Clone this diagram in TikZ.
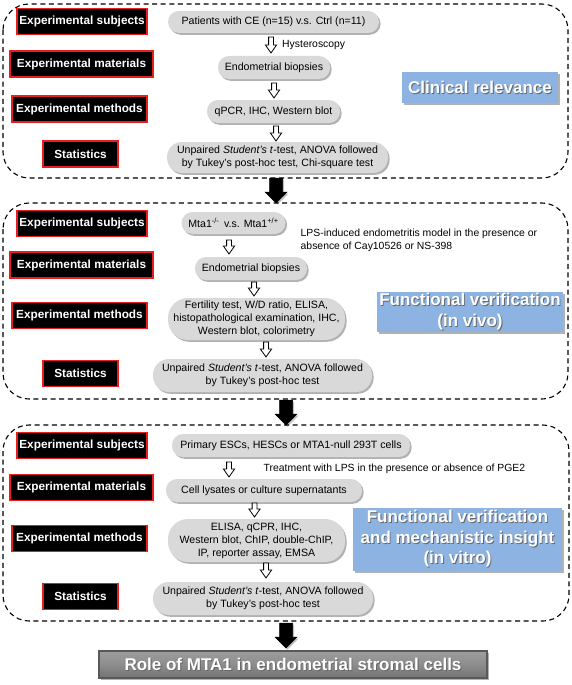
\documentclass[tikz,border=0pt]{standalone}
\usepackage{fontspec}
\setmainfont{Liberation Sans}
\usetikzlibrary{shadows}
\definecolor{lred}{RGB}{232,30,30}
\definecolor{pillgray}{RGB}{217,217,217}
\definecolor{lblue}{RGB}{141,179,226}
\newcommand\shd[1]{\makebox[0pt][l]{\hspace{0.9pt}\raisebox{-0.9pt}{\color{black!60}#1}}#1}
\newcommand\downarr[7]{%
  \draw[#1] (#2-#5,#3) -- (#2+#5,#3) -- (#2+#5,#4-#7) -- (#2+#6,#4-#7) -- (#2,#4)
    -- (#2-#6,#4-#7) -- (#2-#5,#4-#7) -- cycle;}
\tikzset{
  lbl/.style={fill=black, draw=lred, line width=1.6pt, text=white, inner sep=0pt,
    font=\bfseries\fontsize{11.8}{14}\selectfont},
  pill/.style={fill=pillgray, draw=none, rounded corners=#1, align=center, inner sep=0pt,
    font=\fontsize{10.6}{12.9}\selectfont,
    drop shadow={shadow xshift=1.6pt, shadow yshift=-1.8pt, fill=black, opacity=0.3}},
  pill/.default=11pt,
  bluebox/.style={fill=lblue, draw=none, text=white, align=center, inner sep=0pt,
    font=\bfseries\fontsize{17}{20.5}\selectfont,
    drop shadow={shadow xshift=2pt, shadow yshift=-2pt, fill=black, opacity=0.3}},
  panel/.style={draw=black, line width=1.1pt, dash pattern=on 5pt off 3.6pt, rounded corners=26pt},
  note/.style={anchor=west, align=left, inner sep=0pt, font=\fontsize{10.4}{12.9}\selectfont},
  hollow/.style={fill=white, draw=black, line width=0.8pt},
  bigarr/.style={fill=black, draw=black, line width=0.5pt,
    drop shadow={shadow xshift=1.5pt, shadow yshift=-1.5pt, fill=black, opacity=0.25}},
  final/.style={top color=black!38, bottom color=black!55, middle color=black!45,
    draw=black!65, line width=1.3pt, text=white, inner sep=0pt,
    font=\bfseries\fontsize{17}{20}\selectfont,
    drop shadow={shadow xshift=2pt, shadow yshift=-2pt, fill=black, opacity=0.3}}
}
\begin{document}
\begin{tikzpicture}[x=1pt, y=-1pt]
\useasboundingbox[fill=white] (0,0) rectangle (572,685);

% ---------- panels ----------
\draw[panel] (3,4) rectangle (568,178);
\draw[panel] (3,203) rectangle (568,399);
\draw[panel] (3,425) rectangle (569,621);

% ---------- panel 1 ----------
\node[lbl, minimum width=130pt, minimum height=26pt] (s1) at (82,21.5) {Experimental subjects};
\node[lbl, minimum width=143pt, minimum height=26pt] (m1) at (81.5,64) {Experimental materials};
\node[lbl, minimum width=135pt, minimum height=26pt] (e1) at (79.5,109) {Experimental methods};
\node[lbl, minimum width=75pt, minimum height=26pt] (t1) at (80.5,154) {Statistics};

\node[pill, minimum width=211pt, minimum height=22pt] (p1a) at (273.5,22) {Patients with CE (n=15) v.s. Ctrl (n=11)};
\node[pill, minimum width=112pt, minimum height=23pt] (p1b) at (274,67.5) {Endometrial biopsies};
\node[pill, minimum width=133pt, minimum height=23pt] (p1c) at (273.5,111.5) {qPCR, IHC, Western blot};
\node[pill=15pt, minimum width=221pt, minimum height=31pt] (p1d) at (277.5,157.5)
  {Unpaired \textit{Student's t}-test, ANOVA followed\\by Tukey's post-hoc test, Chi-square test};
\node[note] (h1) at (282,45) {Hysteroscopy};

\node[bluebox, minimum width=156pt, minimum height=31pt] (b1) at (480,87.5) {\shd{Clinical relevance}};

\downarr{hollow}{271}{37}{53}{2.4}{5.6}{8}
\downarr{hollow}{274}{83}{98}{2.4}{5.6}{8}
\downarr{hollow}{276}{126}{141}{2.4}{5.6}{8}

% ---------- panel 2 ----------
\node[lbl, minimum width=130pt, minimum height=26pt] (s2) at (82,223.5) {Experimental subjects};
\node[lbl, minimum width=143pt, minimum height=26pt] (m2) at (81.5,265) {Experimental materials};
\node[lbl, minimum width=135pt, minimum height=26pt] (e2) at (79.5,315.5) {Experimental methods};
\node[lbl, minimum width=75pt, minimum height=26pt] (t2) at (80.5,373.5) {Statistics};

\node[pill, minimum width=104pt, minimum height=22pt] (p2a) at (233.5,223)
  {Mta1\textsuperscript{-/-}\, v.s. Mta1\textsuperscript{+/+}};
\node[pill, minimum width=112pt, minimum height=23pt] (p2b) at (251,268.5) {Endometrial biopsies};
\node[pill=20pt, minimum width=177pt, minimum height=42pt] (p2c) at (256.5,319)
  {Fertility test, W/D ratio, ELISA,\\histopathological examination, IHC,\\Western blot, colorimetry};
\node[pill=16pt, minimum width=219pt, minimum height=33pt] (p2d) at (262.5,375.5)
  {Unpaired \textit{Student's t}-test, ANOVA followed\\by Tukey's post-hoc test};
\node[note] (n2) at (300.5,240.5)
  {LPS-induced endometritis model in the presence or\\absence of Cay10526 or NS-398};

\node[bluebox, minimum width=186pt, minimum height=40pt] (b2) at (470,312)
  {\shd{Functional verification}\\\shd{(in vivo)}};

\downarr{hollow}{229}{240}{254}{2.4}{5.6}{8}
\downarr{hollow}{254}{282}{296}{2.4}{5.6}{8}
\downarr{hollow}{266}{342}{357}{2.4}{5.6}{8}

% ---------- panel 3 ----------
\node[lbl, minimum width=130pt, minimum height=26pt] (s3) at (82,445.5) {Experimental subjects};
\node[lbl, minimum width=143pt, minimum height=26pt] (m3) at (81.5,487.5) {Experimental materials};
\node[lbl, minimum width=135pt, minimum height=26pt] (e3) at (79.5,538.5) {Experimental methods};
\node[lbl, minimum width=75pt, minimum height=26pt] (t3) at (80.5,596.5) {Statistics};

\node[pill, minimum width=238pt, minimum height=23pt] (p3a) at (291,445.5) {Primary ESCs, HESCs or MTA1-null 293T cells};
\node[pill, minimum width=196pt, minimum height=23pt] (p3b) at (264,490.5) {Cell lysates or culture supernatants};
\node[pill=20pt, minimum width=177pt, minimum height=43pt] (p3c) at (256.5,540.5)
  {ELISA, qCPR, IHC,\\Western blot, ChIP, double-ChIP,\\IP, reporter assay, EMSA};
\node[pill=16pt, minimum width=220pt, minimum height=33pt] (p3d) at (263,598.5)
  {Unpaired \textit{Student's t}-test, ANOVA followed\\by Tukey's post-hoc test};
\node[note] (n3) at (263.5,469) {Treatment with LPS in the presence or absence of PGE2};

\node[bluebox, minimum width=209pt, minimum height=63pt] (b3) at (457.5,539.5)
  {\shd{Functional verification}\\\shd{and mechanistic insight}\\\shd{(in vitro)}};

\downarr{hollow}{229}{462}{477}{2.4}{5.6}{8}
\downarr{hollow}{254.5}{503}{517}{2.4}{5.6}{8}
\downarr{hollow}{266}{563}{578}{2.4}{5.6}{8}

% ---------- big arrows ----------
\downarr{bigarr}{276}{178}{203}{6.5}{11}{11}
\downarr{bigarr}{286}{400}{425}{6.5}{11}{11}
\downarr{bigarr}{286}{623}{648}{6.5}{11}{11}

% ---------- final ----------
\node[final, minimum width=388pt, minimum height=27pt] (fin) at (293,664.5)
  {\shd{Role of MTA1 in endometrial stromal cells}};
\end{tikzpicture}
\end{document}
